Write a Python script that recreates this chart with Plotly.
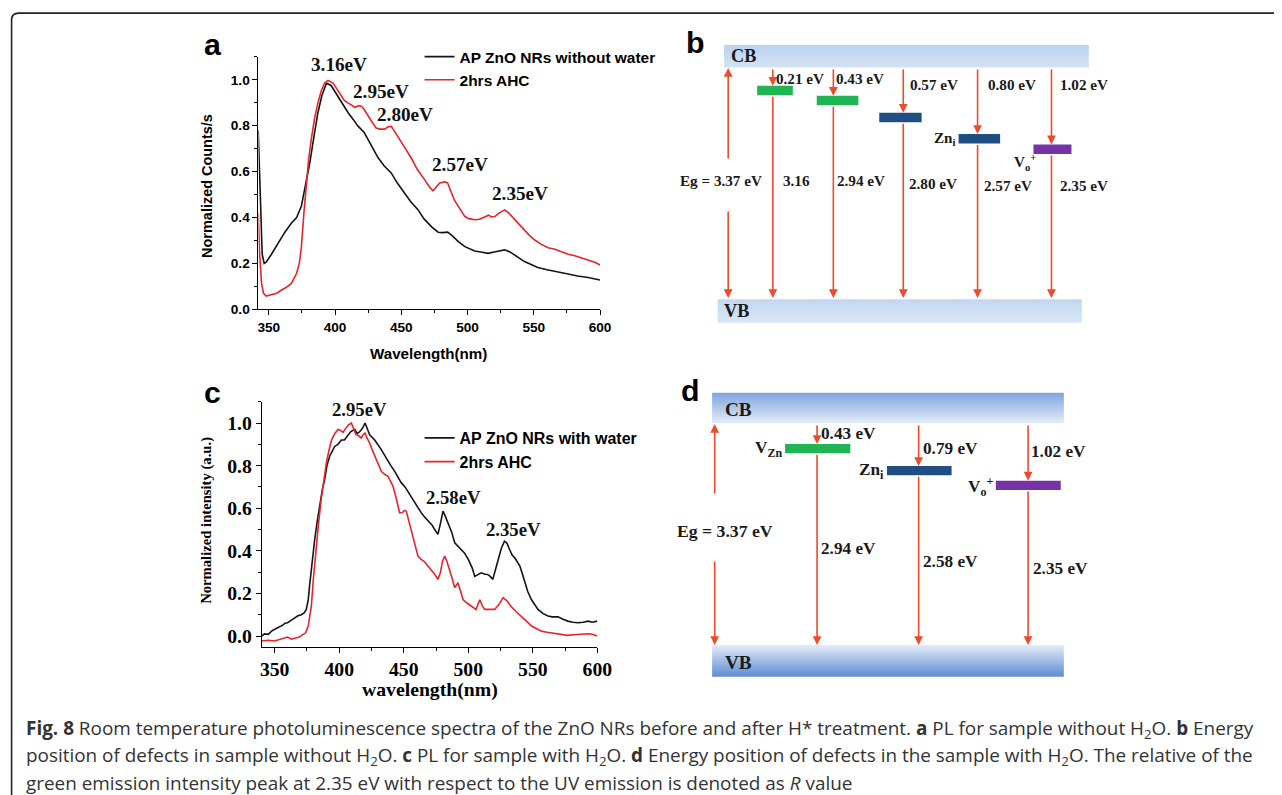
import plotly.graph_objects as go

# The photographed page comes out ~1.1% smaller than CSS pixels; positions below are reference pixels
SX, SY = 0.988, 0.990
OFF = 8                       # default body margin of the written page
W = int(round(1282 / SX)) - 2 * OFF
H = int(round(795 / SY)) - 2 * OFF
FS = 1 / ((SX + SY) / 2)      # font compensation

# ---------------- data: panel a ----------------
a_black_x = [342, 343.5, 345, 346.5, 348, 352, 357, 362, 367, 371, 374.6, 378, 381, 384, 387, 390, 393.5, 397, 402, 406,
             410, 414, 417, 422, 427, 432.5, 437, 442.5, 447, 452.6, 457, 462.7, 467, 472.7, 477.8, 481, 485, 489, 493,
             498, 505.4, 510, 515.5, 520, 524, 528, 532, 535.6, 540, 543, 548, 553, 560, 568, 575, 583, 590, 600]
a_black_y = [0.78, 0.45, 0.24, 0.20, 0.205, 0.24, 0.29, 0.335, 0.375, 0.40, 0.45, 0.55, 0.64, 0.75, 0.855, 0.93, 0.985,
             0.975, 0.93, 0.89, 0.855, 0.825, 0.80, 0.77, 0.715, 0.66, 0.625, 0.593, 0.55, 0.506, 0.47, 0.433, 0.395,
             0.36, 0.336, 0.334, 0.336, 0.318, 0.295, 0.273, 0.254, 0.25, 0.244, 0.25, 0.255, 0.259, 0.25, 0.237, 0.222,
             0.208, 0.195, 0.182, 0.172, 0.164, 0.155, 0.145, 0.14, 0.128]
a_red_x = [342, 343, 344.5, 346, 348, 352, 356, 359.6, 363, 367, 371, 373, 374.6, 376.5, 378.4, 380, 382, 384.5, 387,
           389.5, 392, 394.7, 398.5, 401.5, 404.8, 407, 410, 413, 415, 418, 420, 422, 425, 428, 431, 434, 437.5, 440,
           442.5, 445, 447.6, 452, 457.6, 462, 467.7, 471, 474, 477, 479, 483, 485, 487, 490, 494, 498, 501, 505.4, 509,
           513, 516, 518, 520.5, 524, 528, 531, 535.6, 539, 543, 547, 550.7, 555, 560.8, 566, 570.8, 576, 581, 586, 591,
           596, 600]
a_red_y = [0.42, 0.25, 0.113, 0.07, 0.058, 0.0625, 0.07, 0.084, 0.095, 0.113, 0.157, 0.2, 0.273, 0.42, 0.564, 0.65, 0.738,
           0.83, 0.898, 0.95, 0.985, 0.997, 0.985, 0.96, 0.927, 0.91, 0.898, 0.885, 0.88, 0.887, 0.884, 0.87, 0.84, 0.815,
           0.79, 0.785, 0.785, 0.795, 0.797, 0.775, 0.753, 0.71, 0.658, 0.61, 0.564, 0.535, 0.516, 0.535, 0.55, 0.555,
           0.55, 0.52, 0.477, 0.44, 0.404, 0.395, 0.39, 0.392, 0.404, 0.41, 0.402, 0.404, 0.42, 0.433, 0.42, 0.39, 0.37,
           0.346, 0.32, 0.302, 0.285, 0.268, 0.262, 0.251, 0.24, 0.233, 0.224, 0.215, 0.205, 0.193]
a_names = ["AP ZnO NRs without water", "2hrs AHC"]
a_peak_labels = ["3.16eV", "2.95eV", "2.80eV", "2.57eV", "2.35eV"]
a_peak_x = [402.7, 435, 452.7, 494, 539.4]
a_peak_y = [1.065, 0.949, 0.847, 0.629, 0.506]

# ---------------- data: panel c ----------------
c_black_x = [340, 342, 345, 348, 352.6, 356, 358, 360, 363, 365.5, 368, 370.7, 373, 374.5, 376, 377, 379, 381, 383, 385,
             387, 388.7, 390.5, 392.6, 396.5, 399, 401.7, 404, 407, 409, 412, 414, 416, 418, 420, 422, 423.6, 427.5, 430,
             432.6, 435, 437.8, 440, 443, 446, 448, 451, 453, 456, 458.5, 461, 463.6, 466, 468.8, 472, 474, 476.5, 478.5,
             480.4, 482, 484.3, 487, 489.5, 492, 494.6, 497, 500, 503, 505, 507.5, 510, 513, 515, 517, 519, 521, 523,
             525.5, 528, 530, 532, 534, 536, 538, 540, 542, 543.7, 546, 549, 551.5, 554, 558, 561.8, 565, 569.5, 573,
             577, 581, 585, 589, 592.8, 596, 600]
c_black_y = [0.0, 0.01, 0.008, 0.025, 0.04, 0.05, 0.06, 0.0625, 0.075, 0.086, 0.095, 0.1, 0.11, 0.125, 0.17, 0.234, 0.35,
             0.453, 0.54, 0.625, 0.69, 0.734, 0.8, 0.844, 0.89, 0.9, 0.92, 0.92, 0.945, 0.96, 0.97, 0.95, 0.96, 0.975,
             1.0, 0.97, 0.945, 0.92, 0.9, 0.875, 0.85, 0.82, 0.8, 0.773, 0.74, 0.72, 0.7, 0.68, 0.65, 0.625, 0.6, 0.578,
             0.56, 0.54, 0.52, 0.5, 0.477, 0.53, 0.586, 0.565, 0.531, 0.49, 0.4375, 0.42, 0.406, 0.39, 0.36, 0.32, 0.28,
             0.29, 0.297, 0.29, 0.289, 0.28, 0.266, 0.31, 0.36, 0.41, 0.445, 0.435, 0.406, 0.38, 0.367, 0.35, 0.328,
             0.29, 0.25, 0.21, 0.17, 0.145, 0.125, 0.105, 0.094, 0.09, 0.09, 0.08, 0.07, 0.065, 0.0625, 0.065, 0.07,
             0.065, 0.07]
c_red_x = [340, 345, 350, 355, 358, 360, 363, 365.5, 369, 372, 374, 376, 377.5, 378.4, 380, 382, 384, 386, 388, 390, 392,
           394, 396.5, 399, 401, 403, 405, 407, 409.4, 411, 413, 415, 417, 418.5, 420, 421.5, 423.6, 425.5, 427.5, 430,
           432.6, 435, 437.8, 439.5, 441.7, 444, 446.8, 449, 450.5, 452, 454, 457, 459, 461, 463.5, 466, 468.5, 471, 474,
           476.5, 478.5, 480, 481.7, 483.5, 485.6, 487.5, 489.5, 491, 492, 494, 496, 499, 502.4, 505, 506, 507.5, 509,
           511, 512.7, 516, 520.5, 524, 527, 530, 533, 537, 541, 545, 549, 553, 556.6, 561, 567, 572, 577, 581, 585, 589,
           592.8, 596, 600]
c_red_y = [-0.023, -0.02, -0.023, -0.015, -0.01, -0.005, -0.015, -0.012, -0.005, 0.008, 0.015, 0.047, 0.1, 0.14, 0.27,
           0.42, 0.53, 0.64, 0.73, 0.81, 0.87, 0.92, 0.95, 0.97, 0.965, 0.956, 0.975, 0.99, 1.0, 0.975, 0.945, 0.94,
           0.93, 0.945, 0.953, 0.93, 0.906, 0.875, 0.844, 0.81, 0.773, 0.76, 0.75, 0.73, 0.703, 0.65, 0.578, 0.58, 0.59,
           0.586, 0.54, 0.469, 0.42, 0.375, 0.36, 0.35, 0.33, 0.3125, 0.29, 0.266, 0.3, 0.35, 0.375, 0.35, 0.3125, 0.27,
           0.227, 0.24, 0.25, 0.21, 0.17, 0.155, 0.14, 0.13, 0.125, 0.15, 0.17, 0.14, 0.125, 0.125, 0.125, 0.15, 0.18,
           0.165, 0.14, 0.115, 0.094, 0.07, 0.047, 0.033, 0.023, 0.018, 0.0125, 0.008, 0.003, 0.006, 0.008, 0.01, 0.011,
           0.008, 0.0]
c_names = ["AP ZnO NRs with water", "2hrs AHC"]
c_peak_labels = ["2.95eV", "2.58eV", "2.35eV"]
c_peak_x = [415.8, 488.2, 534.7]
c_peak_y = [1.063, 0.649, 0.5]

# ---------------- data: panel b (energy diagram, without water) ----------------
b_gap = 3.37
b_depth_labels = ["0.21 eV", "0.43 eV", "0.57 eV", "0.80 eV", "1.02 eV"]
b_emit_labels = ["3.16", "2.94 eV", "2.80 eV", "2.57 eV", "2.35 eV"]
b_level_depth = [0.267, 0.413, 0.66, 0.969, 1.119]   # drawn depth below CB (eV)
b_level_names = ["", "", "", "Zn<sub>i</sub>", "V<sub>o</sub><sup>+</sup>"]
b_level_kind = ["VZn", "VZn", "Zni", "Zni", "Vo"]

# ---------------- data: panel d (energy diagram, with water) ----------------
d_gap = 3.37
d_depth_labels = ["0.43 eV", "0.79 eV", "1.02 eV"]
d_emit_labels = ["2.94 eV", "2.58 eV", "2.35 eV"]
d_level_depth = [0.315, 0.649, 0.872]
d_level_names = ["V<sub>Zn</sub>", "Zn<sub>i</sub>", "V<sub>o</sub><sup>+</sup>"]
d_level_kind = ["VZn", "Zni", "Vo"]

# ---------------- styles ----------------
RED = "#e8232a"
BLACK = "#141414"
ARROW = "#ee4a2c"
LEVEL_COL = {"VZn": "#20b455", "Zni": "#1f4f82", "Vo": "#7434a4"}
SANS = "Liberation Sans"
SERIF = "Liberation Serif"


def X(px):
    return (px / SX - OFF) / W


def Y(py):
    return 1 - (py / SY - OFF) / H


def F(size):
    return round(size * FS, 2)


fig = go.Figure()

fig.add_trace(go.Scatter(x=a_black_x, y=a_black_y, mode="lines", line=dict(color=BLACK, width=1.6),
                         name="<b>" + a_names[0] + "</b>", xaxis="x", yaxis="y", legend="legend"))
fig.add_trace(go.Scatter(x=a_red_x, y=a_red_y, mode="lines", line=dict(color=RED, width=1.6),
                         name="<b>" + a_names[1] + "</b>", xaxis="x", yaxis="y", legend="legend"))
fig.add_trace(go.Scatter(x=c_black_x, y=c_black_y, mode="lines", line=dict(color=BLACK, width=1.6),
                         name="<b>" + c_names[0] + "</b>", xaxis="x2", yaxis="y2", legend="legend2"))
fig.add_trace(go.Scatter(x=c_red_x, y=c_red_y, mode="lines", line=dict(color=RED, width=1.6),
                         name="<b>" + c_names[1] + "</b>", xaxis="x2", yaxis="y2", legend="legend2"))

axis_common = dict(showline=True, linecolor="black", linewidth=1, ticks="outside", ticklen=5, tickwidth=1,
                   tickcolor="black", showgrid=False, zeroline=False, mirror=False)

b_py_vb, b_pxev = 299.3, 68.84
d_py_vb, d_pxev = 645.0, 65.8

fig.update_layout(
    width=W, height=H, margin=dict(l=0, r=0, t=0, b=0),
    paper_bgcolor="white", plot_bgcolor="rgba(0,0,0,0)",
    xaxis=dict(domain=[X(256.7), X(598.7)], range=[342.2, 600], anchor="y",
               tickvals=[350, 400, 450, 500, 550, 600],
               minor=dict(ticks="outside", ticklen=3, tickcolor="black", dtick=25, tick0=350),
               tickfont=dict(family=SANS, size=F(13.5), color="black", weight="bold"), **axis_common),
    yaxis=dict(domain=[Y(309.3), Y(56.7)], range=[0, 1.1], anchor="x",
               tickvals=[0, 0.2, 0.4, 0.6, 0.8, 1.0], ticktext=["0.0", "0.2", "0.4", "0.6", "0.8", "1.0"],
               minor=dict(ticks="outside", ticklen=3, tickcolor="black", dtick=0.1, tick0=0),
               tickfont=dict(family=SANS, size=F(13.5), color="black", weight="bold"), **axis_common),
    xaxis2=dict(domain=[X(260), X(596)], range=[340, 600], anchor="y2",
                tickvals=[350, 400, 450, 500, 550, 600],
                minor=dict(ticks="outside", ticklen=3, tickcolor="black", dtick=25, tick0=350),
                tickfont=dict(family=SERIF, size=F(19.5), color="black", weight="bold"), **axis_common),
    yaxis2=dict(domain=[Y(646.7), Y(401.7)], range=[-0.05, 1.1], anchor="x2",
                tickvals=[0, 0.2, 0.4, 0.6, 0.8, 1.0], ticktext=["0.0", "0.2", "0.4", "0.6", "0.8", "1.0"],
                minor=dict(ticks="outside", ticklen=3, tickcolor="black", dtick=0.1, tick0=0),
                tickfont=dict(family=SERIF, size=F(19.5), color="black", weight="bold"), **axis_common),
    xaxis3=dict(domain=[X(660), X(1120)], range=[660, 1120], anchor="y3", visible=False, fixedrange=True),
    yaxis3=dict(domain=[Y(340), Y(30)], range=[(b_py_vb - 340) / b_pxev, (b_py_vb - 30) / b_pxev],
                anchor="x3", visible=False, fixedrange=True),
    xaxis4=dict(domain=[X(670), X(1110)], range=[670, 1110], anchor="y4", visible=False, fixedrange=True),
    yaxis4=dict(domain=[Y(690), Y(380)], range=[(d_py_vb - 690) / d_pxev, (d_py_vb - 380) / d_pxev],
                anchor="x4", visible=False, fixedrange=True),
    legend=dict(x=X(418), y=Y(40), xanchor="left", yanchor="top", bgcolor="rgba(0,0,0,0)",
                font=dict(family=SANS, size=F(15.3), color="black"), itemwidth=30, tracegroupgap=0),
    legend2=dict(x=X(418), y=Y(421), xanchor="left", yanchor="top", bgcolor="rgba(0,0,0,0)",
                 font=dict(family=SANS, size=F(15.8), color="black"), itemwidth=30, tracegroupgap=0),
    showlegend=True,
)

ann = []
shapes = []


def ptext(text, px, py, font, angle=0, xanchor="center"):
    ann.append(dict(text=text, x=X(px), y=Y(py), xref="paper", yref="paper", xanchor=xanchor, yanchor="middle",
                    textangle=angle, showarrow=False, font=font))


for lab, x, y in zip(a_peak_labels, a_peak_x, a_peak_y):
    ann.append(dict(text="<b>" + lab + "</b>", x=x, y=y, xref="x", yref="y", showarrow=False,
                    xanchor="center", yanchor="middle", font=dict(family=SERIF, size=F(19), color="#111")))
for lab, x, y in zip(c_peak_labels, c_peak_x, c_peak_y):
    ann.append(dict(text="<b>" + lab + "</b>", x=x, y=y, xref="x2", yref="y2", showarrow=False,
                    xanchor="center", yanchor="middle", font=dict(family=SERIF, size=F(18.5), color="#111")))

ptext("<b>Normalized Counts/s</b>", 205, 186, dict(family=SANS, size=F(14.3), color="black"), angle=-90)
ptext("<b>Wavelength(nm)</b>", 427, 353, dict(family=SANS, size=F(15), color="black"))
ptext("<b>Normalized intensity (a.u.)</b>", 205, 520, dict(family=SERIF, size=F(14.5), color="black"), angle=-90)
ptext("<b>wavelength(nm)</b>", 428, 690, dict(family=SERIF, size=F(19.5), color="black"))

for letter, px, py in [("a", 211, 44), ("b", 694, 42), ("c", 211, 392), ("d", 689, 390)]:
    ptext("<b>" + letter + "</b>", px, py, dict(family=SANS, size=F(30), color="black"))


def ev_b(py):
    return (b_py_vb - py) / b_pxev


def ev_d(py):
    return (d_py_vb - py) / d_pxev


def band(xref, yref, x0, x1, y0, y1, c_top, c_bot, n=18):
    """Vertical colour gradient made of overlapping strips (no seams)."""
    def mix(a, b, t):
        a = [int(a[i:i + 2], 16) for i in (1, 3, 5)]
        b = [int(b[i:i + 2], 16) for i in (1, 3, 5)]
        return "rgb(%d,%d,%d)" % tuple(round(a[k] + (b[k] - a[k]) * t) for k in range(3))
    step = (y1 - y0) / n
    for i in range(n):
        ya = y1 - step * i
        yb = max(y0, ya - step * 1.6)
        shapes.append(dict(type="rect", xref=xref, yref=yref, x0=x0, x1=x1, y0=yb, y1=ya,
                           fillcolor=mix(c_top, c_bot, (i + 0.5) / n), line=dict(width=0), layer="below"))


def arrow(xref, yref, x, y_tail, y_head):
    ann.append(dict(text="", x=x, y=y_head, ax=x, ay=y_tail, xref=xref, yref=yref, axref=xref, ayref=yref,
                    showarrow=True, arrowhead=2, arrowsize=1.1, arrowwidth=1.6, arrowcolor=ARROW, standoff=0))


def label(xref, yref, text, x, y, size, xanchor="center"):
    ann.append(dict(text="<b>" + text + "</b>", x=x, y=y, xref=xref, yref=yref, showarrow=False,
                    xanchor=xanchor, yanchor="middle", font=dict(family=SERIF, size=F(size), color="#1a1a1a")))


# ---------- panel b ----------
b_cb_h = ev_b(45) - b_gap
b_vb_h = -ev_b(322.7)
band("x3", "y3", 723, 1088, b_gap, b_gap + b_cb_h, "#bcd2ef", "#d3e2f5")
band("x3", "y3", 716.5, 1081, -b_vb_h, 0, "#c3d7f1", "#d9e6f6")
label("x3", "y3", "CB", 742, ev_b(56), 18)
label("x3", "y3", "VB", 735, ev_b(311), 18)

arrow("x3", "y3", 727, ev_b(160), ev_b(68))
arrow("x3", "y3", 727, ev_b(210), ev_b(298))
label("x3", "y3", "Eg = 3.37 eV", 720, ev_b(180), 15)

b_cols = [771.7, 832.3, 902.3, 976.7, 1050.7]
b_bar_x = [(756, 791.7), (815.7, 857.3), (878.3, 920.7), (957.7, 999.3), (1032.7, 1070.7)]
b_thick = 9.5 / b_pxev
b_dlab_pos = [(799, 78), (858.5, 78), (933.5, 84), (1011.5, 84), (1083, 84)]
b_elab_pos = [(795.5, 180), (859.5, 180), (932.5, 183), (1007.5, 185), (1083, 185)]
b_name_pos = [None, None, None, (957, 138), (1024, 162)]
for i, depth in enumerate(b_level_depth):
    top = b_gap - depth
    x0, x1 = b_bar_x[i]
    shapes.append(dict(type="rect", xref="x3", yref="y3", x0=x0, x1=x1, y0=top - b_thick, y1=top,
                       fillcolor=LEVEL_COL[b_level_kind[i]], line=dict(width=0)))
    arrow("x3", "y3", b_cols[i], b_gap - 0.01, top)
    arrow("x3", "y3", b_cols[i], top - b_thick, ev_b(298))
    label("x3", "y3", b_depth_labels[i], b_dlab_pos[i][0], ev_b(b_dlab_pos[i][1]), 15)
    label("x3", "y3", b_emit_labels[i], b_elab_pos[i][0], ev_b(b_elab_pos[i][1]), 15)
    if b_level_names[i]:
        anchor = "right" if i == 3 else "center"
        label("x3", "y3", b_level_names[i], b_name_pos[i][0], ev_b(b_name_pos[i][1]), 15, anchor)

# ---------- panel d ----------
d_cb_h = ev_d(392.7) - d_gap
d_vb_h = -ev_d(676.7)
band("x4", "y4", 711, 1063, d_gap, d_gap + d_cb_h, "#7da5dc", "#e4edf8")
band("x4", "y4", 711, 1063, -d_vb_h, 0, "#e4edf8", "#5d8cd2")
label("x4", "y4", "CB", 737, ev_d(409), 19)
label("x4", "y4", "VB", 737, ev_d(663), 19)

arrow("x4", "y4", 713.5, ev_d(495), ev_d(424))
arrow("x4", "y4", 713.5, ev_d(560), ev_d(645))
label("x4", "y4", "Eg = 3.37 eV", 724, ev_d(531), 17.5)

d_cols = [816, 917.7, 1027.3]
d_bar_x = [(784, 849.3), (886, 950.7), (995, 1060)]
d_thick = 9.3 / d_pxev
d_dlab_pos = [(847.5, 433), (950, 448), (1058, 451)]
d_elab_pos = [(847, 549), (950, 562), (1060, 569)]
d_name_pos = [(783, 449), (885, 471), (994, 487)]
for i, depth in enumerate(d_level_depth):
    top = d_gap - depth
    x0, x1 = d_bar_x[i]
    shapes.append(dict(type="rect", xref="x4", yref="y4", x0=x0, x1=x1, y0=top - d_thick, y1=top,
                       fillcolor=LEVEL_COL[d_level_kind[i]], line=dict(width=0)))
    arrow("x4", "y4", d_cols[i], d_gap - 0.01, top)
    arrow("x4", "y4", d_cols[i], top - d_thick, ev_d(645))
    label("x4", "y4", d_depth_labels[i], d_dlab_pos[i][0], ev_d(d_dlab_pos[i][1]), 17)
    label("x4", "y4", d_emit_labels[i], d_elab_pos[i][0], ev_d(d_elab_pos[i][1]), 17)
    label("x4", "y4", d_level_names[i], d_name_pos[i][0], ev_d(d_name_pos[i][1]), 17, "right")

# ---------- frame & caption ----------
shapes.append(dict(type="path", xref="paper", yref="paper",
                   path="M %f,%f L %f,%f Q %f,%f %f,%f L %f,%f" % (X(9.5), Y(810), X(9.5), Y(20), X(9.5), Y(13),
                                                                 X(16.5), Y(13), X(1300), Y(13)),
                   line=dict(color="#222", width=1.6)))

cap_lines = [
    "<b>Fig. 8</b> Room temperature photoluminescence spectra of the ZnO NRs before and after H* treatment. "
    "<b>a</b> PL for sample without H<sub>2</sub>O. <b>b</b> Energy",
    "position of defects in sample without H<sub>2</sub>O. <b>c</b> PL for sample with H<sub>2</sub>O. "
    "<b>d</b> Energy position of defects in the sample with H<sub>2</sub>O. The relative of the",
    "green emission intensity peak at 2.35 eV with respect to the UV emission is denoted as <i>R</i> value",
]
for k, line in enumerate(cap_lines):
    ptext(line, 22, [729, 756, 783][k], dict(family="Open Sans", size=F(18.7), color="#333"), xanchor="left")

fig.update_layout(annotations=ann, shapes=shapes)
fig.write_html("out.html", config={"displayModeBar": False})
